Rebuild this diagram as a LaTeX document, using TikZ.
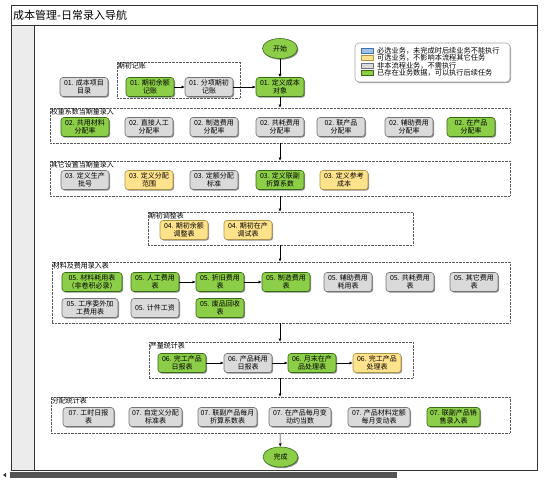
\documentclass[tikz,border=0pt]{standalone}
\usepackage{fontspec}
\newfontfamily\cjk{Noto Sans CJK SC}
\usetikzlibrary{shapes.geometric,shadows,arrows.meta}
\definecolor{gfill}{RGB}{140,206,72}
\definecolor{gline}{RGB}{55,105,25}
\definecolor{yfill}{RGB}{255,226,140}
\definecolor{yline}{RGB}{175,150,70}
\definecolor{hfill}{RGB}{218,218,218}
\definecolor{hline}{RGB}{115,115,115}
\definecolor{bfill}{RGB}{157,195,230}
\definecolor{bline}{RGB}{70,110,170}
\tikzset{
  tsk/.style={draw, rounded corners=3pt, minimum width=48pt, minimum height=19pt,
    inner sep=0.5pt, align=center, font=\cjk\fontsize{7}{8}\selectfont, line width=0.6pt,
    drop shadow={shadow xshift=1pt, shadow yshift=-1.2pt, opacity=0.45, fill=black}},
  gr/.style={tsk, fill=hfill, draw=hline},
  gn/.style={tsk, fill=gfill, draw=gline},
  yl/.style={tsk, fill=yfill, draw=yline},
  grp/.style={draw=gray!70!black, dash pattern=on 0.7pt off 0.7pt, line width=0.5pt, inner sep=0},
  grplbl/.style={anchor=north west, inner sep=0.8pt, font=\cjk\fontsize{7}{8}\selectfont},
  arr/.style={-{Latex[length=3.2pt,width=3pt]}, line width=0.5pt},
  term/.style={ellipse, draw=gline, fill=gfill, minimum width=35pt, minimum height=20pt,
    inner sep=0, line width=0.6pt, font=\cjk\fontsize{7}{8}\selectfont,
    drop shadow={shadow xshift=1pt, shadow yshift=-1.2pt, opacity=0.45, fill=black}},
  sw/.style={draw, minimum width=12pt, minimum height=5pt, inner sep=0, line width=0.5pt},
  lgt/.style={anchor=west, inner sep=0, font=\cjk\fontsize{7.2}{7}\selectfont},
}
\begin{document}
\begin{tikzpicture}[x=1pt,y=-1pt]
\useasboundingbox (0,0) rectangle (554,484);
% frame
\fill[gray!15] (11,25) rectangle (34,470);
\draw[line width=0.7pt, draw=gray!40!black] (11,5) rectangle (537,470);
\draw[line width=0.6pt, draw=gray!40!black] (11,25) -- (537,25);
\draw[line width=0.7pt, draw=gray!40!black] (34,25) -- (34,470);
\node[anchor=west, inner sep=0, font=\cjk\fontsize{11}{12}\selectfont] (title) at (13,15.5) {成本管理-日常录入导航};
% scrollbar
\fill[gray!65!black] (10,472) rectangle (397,478);
\fill[gray!40!black] (3,475) -- (6,472.8) -- (6,477.2) -- cycle;

% groups
\node[grp, minimum width=123pt, minimum height=36pt] (g1) at (178.5,80) {};
\node[grplbl] (g1l) at (g1.north west) {期初记账};
\node[grp, minimum width=460pt, minimum height=35pt] (g2) at (280,125.5) {};
\node[grplbl] (g2l) at (g2.north west) {权重系数当期量录入};
\node[grp, minimum width=460pt, minimum height=35pt] (g3) at (280,178.5) {};
\node[grplbl] (g3l) at (g3.north west) {其它设置当期量录入};
\node[grp, minimum width=265pt, minimum height=33pt] (g4) at (280.5,228.5) {};
\node[grplbl] (g4l) at (g4.north west) {期初调整表};
\node[grp, minimum width=458pt, minimum height=61pt] (g5) at (281,292.5) {};
\node[grplbl] (g5l) at (g5.north west) {材料及费用录入表};
\node[grp, minimum width=264pt, minimum height=36pt] (g6) at (281,360) {};
\node[grplbl] (g6l) at (g6.north west) {产量统计表};
\node[grp, minimum width=459pt, minimum height=36pt] (g7) at (280.5,415) {};
\node[grplbl] (g7l) at (g7.north west) {分配统计表};

% legend
\node[draw=gray!70, rounded corners=4pt, line width=0.6pt, minimum width=155pt, minimum height=39pt, fill=white,
  drop shadow={shadow xshift=1pt, shadow yshift=-1.2pt, opacity=0.35, fill=black}] (legend) at (432.5,62.5) {};
\node[sw, fill=bfill, draw=bline] (sw1) at (367,50.5) {};
\node[sw, fill=yfill, draw=yline] (sw2) at (367,58) {};
\node[sw, fill=hfill, draw=hline] (sw3) at (367,65.5) {};
\node[sw, fill=gfill, draw=gline] (sw4) at (367,73) {};
\node[lgt] (lt1) at (377,50.5) {必选业务，未完成时后续业务不能执行};
\node[lgt] (lt2) at (377,58) {可选业务，不影响本流程其它任务};
\node[lgt] (lt3) at (377,65.5) {非本流程业务，不需执行};
\node[lgt] (lt4) at (377,73) {已存在业务数据，可以执行后续任务};

% start
\node[term] (start) at (280,48.5) {开始};
% row 01
\node[gr] (n11) at (84,87) {01. 成本项目\\目录};
\node[gn] (n12) at (150,87) {01. 期初余额\\记账};
\node[gr] (n13) at (209,87) {01. 分项期初\\记账};
\node[gn] (n14) at (280,87) {01. 定义成本\\对象};
% row 02
\node[gn] (n21) at (85,127) {02. 共用材料\\分配率};
\node[gr] (n22) at (149,127) {02. 直接人工\\分配率};
\node[gr] (n23) at (214,127) {02. 制造费用\\分配率};
\node[gr] (n24) at (280,127) {02. 共耗费用\\分配率};
\node[gr] (n25) at (341,127) {02. 联产品\\分配率};
\node[gr] (n26) at (409,127) {02. 辅助费用\\分配率};
\node[gn] (n27) at (471,127) {02. 在产品\\分配率};
% row 03
\node[gr] (n31) at (85,180) {03. 定义生产\\批号};
\node[yl] (n32) at (149,180) {03. 定义分配\\范围};
\node[gr] (n33) at (214,180) {03. 定额分配\\标准};
\node[gn] (n34) at (280,180) {03. 定义联副\\折算系数};
\node[yl] (n35) at (344,180) {03. 定义参考\\成本};
% row 04
\node[yl] (n41) at (184,230) {04. 期初余额\\调整表};
\node[yl] (n42) at (248,230) {04. 期初在产\\调试表};
% row 05
\node[gn, minimum width=60pt] (n51) at (92,282) {05. 材料耗用表\\（非卷积必录）};
\node[gn] (n52) at (155,282) {05. 人工费用\\表};
\node[gn] (n53) at (220,282) {05. 折旧费用\\表};
\node[gn] (n54) at (286,282) {05. 制造费用\\表};
\node[gr] (n55) at (348,282) {05. 辅助费用\\耗用表};
\node[gr] (n56) at (410,282) {05. 共耗费用\\表};
\node[gr] (n57) at (474,282) {05. 其它费用\\表};
\node[gr, minimum width=56pt] (n58) at (90,308) {05. 工序委外加\\工费用表};
\node[gr] (n59) at (155,308) {05. 计件工资};
\node[gn] (n510) at (220,308) {05. 废品回收\\表};
% row 06
\node[gn] (n61) at (182,363) {06. 完工产品\\日报表};
\node[gr] (n62) at (248,363) {06. 产品耗用\\日报表};
\node[gn] (n63) at (312,363) {06. 月末在产\\品处理表};
\node[yl] (n64) at (377,363) {06. 完工产品\\处理表};
% row 07
\node[gr, minimum width=51pt] (n71) at (88.5,417) {07. 工时日报\\表};
\node[gr, minimum width=53pt] (n72) at (155.5,417) {07. 自定义分配\\标准表};
\node[gr, minimum width=59pt] (n73) at (227.5,417) {07. 联副产品每月\\折算系数表};
\node[gr, minimum width=62pt] (n74) at (300,417) {07. 在产品每月变\\动约当数};
\node[gr, minimum width=62pt] (n75) at (379,417) {07. 产品材料定额\\每月变动表};
\node[gn, minimum width=53pt] (n76) at (453.5,417) {07. 联副产品销\\售录入表};
% end
\node[term] (end) at (280.5,457) {完成};

% connectors
\draw[arr] (start) -- (n14);
\draw[arr] (n12) -- (n13);
\draw[arr] (n13) -- (n14);
\draw[arr] (n14) -- (n14 |- g2.north);
\draw[arr] (g2.south -| start) -- (g3.north -| start);
\draw[arr] (g3.south -| start) -- (g4.north -| start);
\draw[arr] (g4.south -| start) -- (g5.north -| start);
\draw[arr] (n52) -- (n53);
\draw[arr] (n53) -- (n54);
\draw[arr] (g5.south -| start) -- (g6.north -| start);
\draw[arr] (n61) -- (n62);
\draw[arr] (n62) -- (n63);
\draw[arr] (n63) -- (n64);
\draw[arr] (g6.south -| start) -- (g7.north -| start);
\draw[arr] (g7.south -| start) -- (end);
\end{tikzpicture}
\end{document}
